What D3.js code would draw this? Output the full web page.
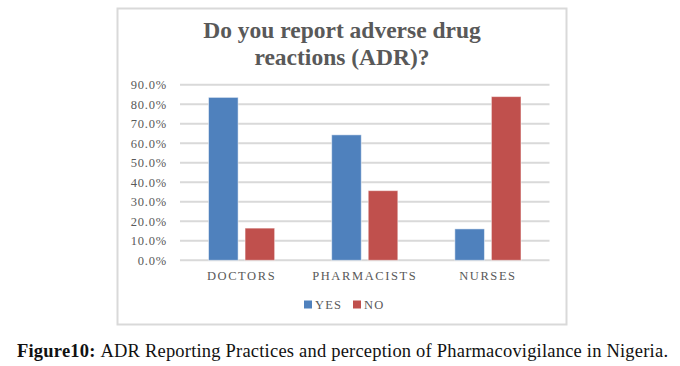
<!DOCTYPE html>
<html>
<head>
<meta charset="utf-8">
<script src="https://cdn.jsdelivr.net/npm/d3@7"></script>
<style>
  body { margin: 0; background: #fff; }
  text { font-family: "Liberation Serif", "Times New Roman", serif; }
</style>
</head>
<body>
<div id="chart"></div>
<script>
var categories = ["DOCTORS", "PHARMACISTS", "NURSES"];
var seriesNames = ["YES", "NO"];
var yesValues = [83.5, 64.3, 16.1];
var noValues = [16.5, 35.7, 83.9];
var yTicks = [0, 10, 20, 30, 40, 50, 60, 70, 80, 90];
var colors = {YES: "#4f81bd", NO: "#c0504d"};

var layout = {top: 84.7, bottom: 260.3, left: 180, right: 549.5};

var svg = d3.select("#chart")
    .append("svg")
    .attr("width", 680)
    .attr("height", 366);

// chart frame
svg.append("rect")
    .attr("x", 117.5).attr("y", 8.5)
    .attr("width", 449).attr("height", 316)
    .attr("fill", "#fff")
    .attr("stroke", "#d9d9d9")
    .attr("stroke-width", 2);

svg.append("text")
    .attr("x", 342).attr("y", 38)
    .attr("text-anchor", "middle")
    .attr("font-size", 23.5).attr("font-weight", "bold")
    .attr("fill", "#595959")
    .text("Do you report adverse drug");
svg.append("text")
    .attr("x", 342).attr("y", 64.5)
    .attr("text-anchor", "middle")
    .attr("font-size", 23.5).attr("font-weight", "bold")
    .attr("fill", "#595959")
    .text("reactions (ADR)?");

var yaxis = d3.scaleLinear()
    .domain([0, 90])
    .range([layout.bottom, layout.top]);

var xaxis = d3.scaleBand()
    .domain(categories)
    .range([layout.left, layout.right]);

var inner = d3.scaleBand()
    .domain(seriesNames)
    .range([0, xaxis.bandwidth()])
    .paddingInner(0.19)
    .paddingOuter(0.78);

// gridlines
svg.append("g")
    .selectAll("line")
    .data(yTicks)
    .enter()
    .append("line")
    .attr("x1", layout.left).attr("x2", layout.right)
    .attr("y1", function(d) { return yaxis(d); })
    .attr("y2", function(d) { return yaxis(d); })
    .attr("stroke", "#d9d9d9")
    .attr("stroke-width", 2);

svg.append("g")
    .selectAll("text")
    .data(yTicks)
    .enter()
    .append("text")
    .attr("x", 167)
    .attr("y", function(d) { return yaxis(d); })
    .attr("dy", "0.35em")
    .attr("text-anchor", "end")
    .attr("font-size", 12.5)
    .attr("letter-spacing", 0.8)
    .attr("fill", "#595959")
    .text(function(d) { return d.toFixed(1) + "%"; });

var rows = categories.map(function(c, i) {
  return {cat: c, values: [{key: "YES", v: yesValues[i]}, {key: "NO", v: noValues[i]}]};
});

var groups = svg.selectAll(".grp")
    .data(rows)
    .enter()
    .append("g")
    .attr("transform", function(d) { return "translate(" + xaxis(d.cat) + ",0)"; });

groups.selectAll("rect")
    .data(function(d) { return d.values; })
    .enter()
    .append("rect")
    .attr("x", function(d) { return inner(d.key); })
    .attr("y", function(d) { return yaxis(d.v); })
    .attr("width", inner.bandwidth())
    .attr("height", function(d) { return yaxis(0) - yaxis(d.v); })
    .attr("fill", function(d) { return colors[d.key]; })
    .attr("stroke", "#ffffff")
    .attr("stroke-opacity", 0.5)
    .attr("stroke-width", 1);

// category labels
svg.append("g")
    .selectAll("text")
    .data(categories)
    .enter()
    .append("text")
    .attr("x", function(d) { return xaxis(d) + xaxis.bandwidth() / 2; })
    .attr("y", 280)
    .attr("text-anchor", "middle")
    .attr("font-size", 12.5)
    .attr("letter-spacing", 1.6)
    .attr("fill", "#595959")
    .text(function(d) { return d; });

// legend
var legendX = [304, 353];
var legend = svg.append("g")
    .selectAll("g")
    .data(seriesNames)
    .enter()
    .append("g")
    .attr("transform", function(d, i) { return "translate(" + legendX[i] + ",300.5)"; });
legend.append("rect")
    .attr("width", 8).attr("height", 8)
    .attr("fill", function(d) { return colors[d]; });
legend.append("text")
    .attr("x", 11).attr("y", 8)
    .attr("font-size", 12.5)
    .attr("letter-spacing", 1.2)
    .attr("fill", "#595959")
    .text(function(d) { return d; });

// caption
var cap = svg.append("text")
    .attr("x", 17).attr("y", 357)
    .attr("font-size", 18.5)
    .attr("textLength", 651)
    .attr("lengthAdjust", "spacing")
    .attr("fill", "#111");
cap.append("tspan").attr("font-weight", "bold").text("Figure10: ");
cap.append("tspan").text("ADR Reporting Practices and perception of Pharmacovigilance in Nigeria.");
</script>
</body>
</html>
